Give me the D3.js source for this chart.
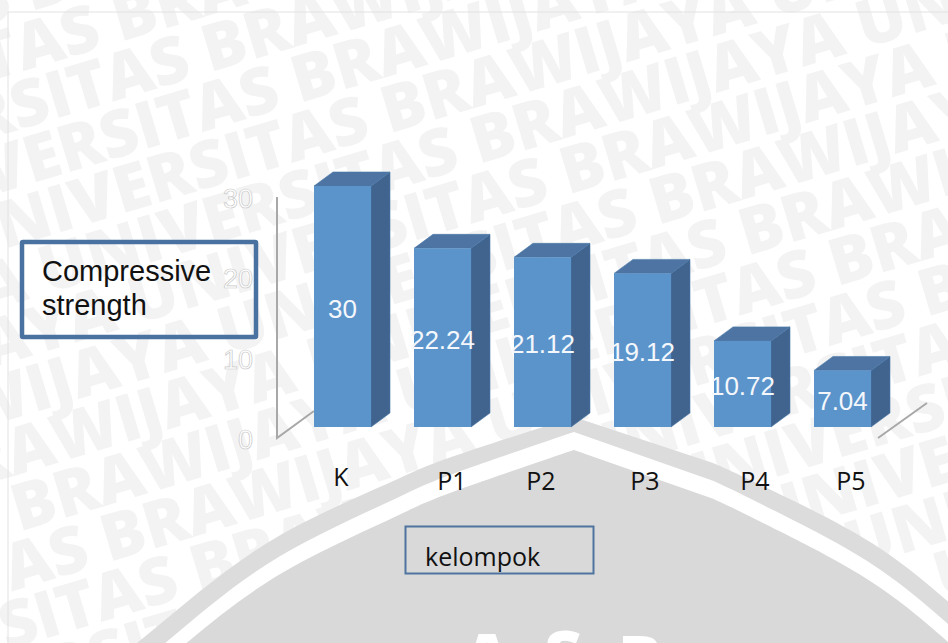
<!DOCTYPE html>
<html>
<head>
<meta charset="utf-8">
<script src="https://cdn.jsdelivr.net/npm/d3@7"></script>
<style>
html,body{margin:0;padding:0;background:#fff;overflow:hidden}
svg{display:block}
</style>
</head>
<body>
<svg id="chart" width="948" height="643"></svg>
<script>
// Compressive strength per group
const categories = ["K", "P1", "P2", "P3", "P4", "P5"];
const strength = [30, 22.24, 21.12, 19.12, 10.72, 7.04];
const valueLabels = ["30", "22.24", "21.12", "19.12", "10.72", "7.04"];
const yTicks = [0, 10, 20, 30];
const watermarkRows = d3.range(-8, 14);

const svg = d3.select("#chart");
const sans = "'Liberation Sans', Arial, sans-serif";
const humanist = "'Open Sans', 'Noto Sans', sans-serif";

// Page watermark: slanted rows of heavy text, each row stepped along the baseline
const wm = svg.append("g").attr("transform", "translate(672 197) rotate(-16.7)");
const wmFont = { family: "'Open Sans', sans-serif", weight: 800, size: 65 };
const probe = wm.append("text")
  .attr("font-family", wmFont.family).attr("font-weight", wmFont.weight).attr("font-size", wmFont.size);
const measure = s => probe.text(s).node().getComputedTextLength();
const period = measure("UNIVERSITAS BRAWIJAYA UNIVERSITAS") - measure("UNIVERSITAS");
probe.remove();
wm.selectAll("text").data(watermarkRows).join("text")
  .attr("x", d => -22 + d * 77 - 3 * period)
  .attr("y", d => 23 + d * 55)
  .attr("font-family", wmFont.family)
  .attr("font-weight", wmFont.weight)
  .attr("font-size", wmFont.size)
  .attr("fill", "#f3f3f3")
  .text(d3.range(7).map(() => "BRAWIJAYA UNIVERSITAS").join(" "));

// University crest at the bottom: an outer band, a white gap and the inner field
const apexX = 574;
const reach = [0, 139, 174, 307, 437, 640];
const dropLeft = [0, 46, 61, 126, 226, 400];
const dropRight = [0, 46, 62, 132, 240, 420];
const archLine = d3.line().curve(d3.curveCatmullRom.alpha(0.5));
const arch = (apexY, grow) => {
  const rise = i => apexY + grow * reach[i] / 100;
  const left = reach.map((r, i) => [apexX - r, rise(i) + dropLeft[i]]).reverse();
  const right = reach.slice(1).map((r, i) => [apexX + r, rise(i + 1) + dropRight[i + 1]]);
  return archLine(left) + "L" + archLine(right).slice(1) + "V800H-100Z";
};
svg.append("path").attr("d", arch(417, 0)).attr("fill", "#dcdcdc");
svg.append("path").attr("d", arch(432, 2)).attr("fill", "#ffffff");
svg.append("path").attr("d", arch(450, 2)).attr("fill", "#d9d9d9");

// Lettering of the crest, mostly below the page edge
const crestLetters = ["A", "S", "B"];
const crestX = [487, 563, 640];
const crestTop = [635, 632, 637];
svg.append("g").selectAll("text").data(crestLetters).join("text")
  .attr("x", (d, i) => crestX[i]).attr("y", (d, i) => crestTop[i] + 46)
  .attr("text-anchor", "middle").attr("font-family", wmFont.family).attr("font-weight", 800)
  .attr("font-size", 65).attr("fill", "#fff").text(d => d);

// Frame of the chart area
svg.append("path").attr("d", "M8 643V12H948").attr("fill", "none").attr("stroke", "#e2e2e2");

// Pseudo-3D plot geometry
const y = d3.scaleLinear().domain([0, 30]).range([427, 186]);
const x = d3.scaleBand().domain(categories).range([292.5, 892.5]).paddingInner(0.43).paddingOuter(0.215);
const dx = 19, dy = -14;
const frontFill = "#5b94cb", topFill = "#4d74a2", sideFill = "#41648f";

// Back wall and floor edges
const axis = svg.append("g").attr("fill", "none").attr("stroke", "#a8a8a8").attr("stroke-width", 2);
axis.append("path").attr("d", "M277 197V438L314 411");
axis.append("path").attr("d", "M878 438L927 403");

const bars = svg.append("g").selectAll("g").data(categories).join("g");
bars.each(function(c, i) {
  const g = d3.select(this);
  const x0 = x(c), x1 = x0 + x.bandwidth();
  const yt = y(strength[i]), yb = y(0);
  g.append("path").attr("fill", sideFill).attr("stroke", "#4a78a8").attr("stroke-width", 0.6)
    .attr("d", `M${x1} ${yt}L${x1+dx} ${yt+dy}V${yb+dy}L${x1} ${yb}Z`);
  g.append("path").attr("fill", topFill).attr("stroke", "#4a78a8").attr("stroke-width", 0.6)
    .attr("d", `M${x0} ${yt}L${x0+dx} ${yt+dy}H${x1+dx}L${x1} ${yt}Z`);
  g.append("rect").attr("x", x0).attr("y", yt).attr("width", x.bandwidth()).attr("height", yb - yt).attr("fill", frontFill);
  g.append("text").attr("x", (x0 + x1) / 2).attr("y", (yt + yb) / 2 + 11)
    .attr("text-anchor", "middle").attr("font-family", sans).attr("font-size", 26).attr("fill", "#f4f7fb")
    .text(valueLabels[i]);
});

// Value axis labels: white with a pale outline
svg.append("g").selectAll("text").data(yTicks).join("text")
  .attr("x", 253).attr("y", d => y(d) + 22)
  .attr("text-anchor", "end").attr("font-family", sans).attr("font-size", 27)
  .attr("fill", "#fff").attr("stroke", "#c9c9c9").attr("stroke-width", 0.7)
  .text(d => d);

// Category labels sit on slightly uneven baselines
const labelX = [341, 452, 541, 645, 755, 851];
const labelY = [486, 490, 490, 490, 490, 490];
svg.append("g").selectAll("text").data(categories).join("text")
  .attr("x", (d, i) => labelX[i]).attr("y", (d, i) => labelY[i])
  .attr("text-anchor", "middle").attr("font-family", humanist).attr("font-size", 25).attr("fill", "#111")
  .text(d => d);

// Axis title boxes
svg.append("rect").attr("x", 22).attr("y", 242).attr("width", 234).attr("height", 95).attr("rx", 1)
  .attr("fill", "none").attr("stroke", "#4a72a0").attr("stroke-width", 4.5);
svg.append("text").attr("font-family", sans).attr("font-size", 29).attr("fill", "#111")
  .selectAll("tspan").data(["Compressive", "strength"]).join("tspan")
  .attr("x", 42).attr("y", (d, i) => 281 + i * 34).text(d => d);

svg.append("rect").attr("x", 405.5).attr("y", 526.5).attr("width", 188).attr("height", 47)
  .attr("fill", "none").attr("stroke", "#4f74a0").attr("stroke-width", 2);
svg.append("text").attr("x", 425).attr("y", 566).attr("font-family", humanist).attr("font-size", 25).attr("fill", "#111").text("kelompok");
</script>
</body>
</html>
